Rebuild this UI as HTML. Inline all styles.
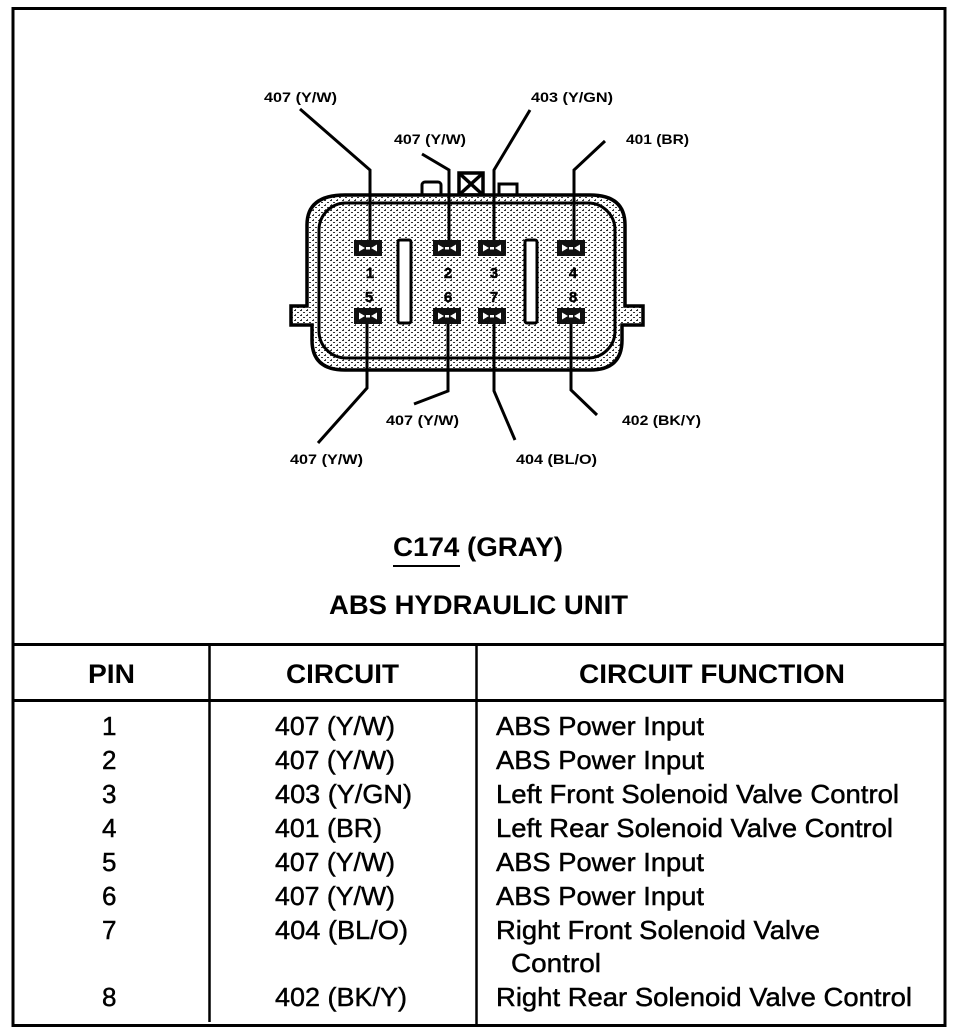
<!DOCTYPE html>
<html><head><meta charset="utf-8"><style>
html,body{margin:0;padding:0;background:#fff}
svg{display:block}
text{font-family:"Liberation Sans",sans-serif;fill:#000}
.l{font-size:14px;font-weight:bold}
.h{font-size:27px;font-weight:bold}
.t{font-size:26px;stroke:#000;stroke-width:.45}
.n{font-size:15px;font-weight:bold;stroke:#000;stroke-width:.4}
</style></head><body>
<svg width="960" height="1036" viewBox="0 0 960 1036" xmlns="http://www.w3.org/2000/svg">
<defs>
<pattern id="st" width="6" height="5" patternUnits="userSpaceOnUse">
<rect width="6" height="5" fill="#fff"/>
<rect x="0" y="0" width="2" height="1" fill="#333"/>
<rect x="3" y="2" width="2" height="1" fill="#333"/>
<rect x="1" y="4" width="1" height="1" fill="#555"/>
</pattern>
<g id="pin">
<rect x="0" y="0" width="28" height="16" fill="#111"/>
<path d="M5 4.5L11 8L5 11.5ZM23 4.5L17 8L23 11.5Z" fill="#fff"/>
<rect x="12" y="7" width="4" height="2.5" fill="#fff"/>
</g>
</defs>
<rect width="960" height="1036" fill="#fff"/>
<g fill="none" stroke="#000">
<rect x="13" y="8.5" width="932" height="1017" stroke-width="3"/>
<path d="M13 644.5H945M13 700.5H945" stroke-width="3"/>
<path d="M209.5 644V1022M476.5 644V1025" stroke-width="2.5"/>
</g>

<!-- connector -->
<g stroke="#000" fill="none">
<rect x="422" y="182" width="19" height="14" rx="3" fill="#fff" stroke-width="3"/>
<rect x="499" y="184" width="18" height="12" fill="#fff" stroke-width="3"/>
<rect x="459" y="173" width="24" height="22" fill="#fff" stroke-width="3.5"/>
<path d="M459 173L483 195M483 173L459 195" stroke-width="3.5"/>
<path d="M307 306H291V325H312V340Q312 370 345 370H590Q622 370 622 340V325H643V306H625V225Q625 195 590 195H345Q307 195 307 225Z" fill="url(#st)" stroke-width="3.5"/>
<rect x="319" y="203" width="296" height="155" rx="27" stroke-width="3"/>
<rect x="398" y="240" width="13" height="83" rx="2" fill="#fff" stroke-width="3"/>
<rect x="525" y="240" width="12" height="83" rx="2" fill="#fff" stroke-width="3"/>
</g>
<use href="#pin" x="354" y="240"/><use href="#pin" x="433" y="240"/><use href="#pin" x="478" y="240"/><use href="#pin" x="557" y="240"/>
<use href="#pin" x="354" y="308"/><use href="#pin" x="433" y="308"/><use href="#pin" x="478" y="308"/><use href="#pin" x="557" y="308"/>
<g fill="none" stroke="#000" stroke-width="3">
<path d="M300 109L370 170V240"/>
<path d="M422 154L449 170V240"/>
<path d="M530 110L494 170V240"/>
<path d="M605 141L574 170V240"/>
<path d="M367 324V388L318 443"/>
<path d="M448 324V391L414 404"/>
<path d="M494 324V391L515 440"/>
<path d="M571 324V390L597 415"/>
</g>
<g text-anchor="middle">
<text class="n" x="370" y="278">1</text><text class="n" x="448" y="278">2</text><text class="n" x="494" y="278">3</text><text class="n" x="573" y="278">4</text>
<text class="n" x="369" y="302">5</text><text class="n" x="448" y="302">6</text><text class="n" x="494" y="302">7</text><text class="n" x="573" y="302">8</text>
</g>
<text class="l" x="264" y="102" textLength="73" lengthAdjust="spacingAndGlyphs">407 (Y/W)</text>
<text class="l" x="394" y="144" textLength="72" lengthAdjust="spacingAndGlyphs">407 (Y/W)</text>
<text class="l" x="531" y="102" textLength="82" lengthAdjust="spacingAndGlyphs">403 (Y/GN)</text>
<text class="l" x="626" y="144" textLength="63" lengthAdjust="spacingAndGlyphs">401 (BR)</text>
<text class="l" x="386" y="425" textLength="73" lengthAdjust="spacingAndGlyphs">407 (Y/W)</text>
<text class="l" x="622" y="425" textLength="79" lengthAdjust="spacingAndGlyphs">402 (BK/Y)</text>
<text class="l" x="290" y="464" textLength="73" lengthAdjust="spacingAndGlyphs">407 (Y/W)</text>
<text class="l" x="516" y="464" textLength="81" lengthAdjust="spacingAndGlyphs">404 (BL/O)</text>

<text class="h" x="393" y="556" textLength="170" lengthAdjust="spacingAndGlyphs">C174 (GRAY)</text>
<rect x="393" y="565" width="67" height="2" fill="#000"/>
<text class="h" x="329" y="614" textLength="299" lengthAdjust="spacingAndGlyphs">ABS HYDRAULIC UNIT</text>
<text class="h" x="88" y="683" textLength="47" lengthAdjust="spacingAndGlyphs">PIN</text>
<text class="h" x="286" y="683" textLength="113" lengthAdjust="spacingAndGlyphs">CIRCUIT</text>
<text class="h" x="579" y="683" textLength="266" lengthAdjust="spacingAndGlyphs">CIRCUIT FUNCTION</text>

<text class="t" x="102" y="735">1</text>
<text class="t" x="102" y="769">2</text>
<text class="t" x="102" y="803">3</text>
<text class="t" x="102" y="837">4</text>
<text class="t" x="102" y="871">5</text>
<text class="t" x="102" y="905">6</text>
<text class="t" x="102" y="939">7</text>
<text class="t" x="102" y="1006">8</text>
<text class="t" x="275" y="735" textLength="120" lengthAdjust="spacingAndGlyphs">407 (Y/W)</text>
<text class="t" x="275" y="769" textLength="120" lengthAdjust="spacingAndGlyphs">407 (Y/W)</text>
<text class="t" x="275" y="803" textLength="137" lengthAdjust="spacingAndGlyphs">403 (Y/GN)</text>
<text class="t" x="275" y="837" textLength="107" lengthAdjust="spacingAndGlyphs">401 (BR)</text>
<text class="t" x="275" y="871" textLength="120" lengthAdjust="spacingAndGlyphs">407 (Y/W)</text>
<text class="t" x="275" y="905" textLength="120" lengthAdjust="spacingAndGlyphs">407 (Y/W)</text>
<text class="t" x="275" y="939" textLength="133" lengthAdjust="spacingAndGlyphs">404 (BL/O)</text>
<text class="t" x="275" y="1006" textLength="132" lengthAdjust="spacingAndGlyphs">402 (BK/Y)</text>
<text class="t" x="496" y="735" textLength="208" lengthAdjust="spacingAndGlyphs">ABS Power Input</text>
<text class="t" x="496" y="769" textLength="208" lengthAdjust="spacingAndGlyphs">ABS Power Input</text>
<text class="t" x="496" y="803" textLength="403" lengthAdjust="spacingAndGlyphs">Left Front Solenoid Valve Control</text>
<text class="t" x="496" y="837" textLength="397" lengthAdjust="spacingAndGlyphs">Left Rear Solenoid Valve Control</text>
<text class="t" x="496" y="871" textLength="208" lengthAdjust="spacingAndGlyphs">ABS Power Input</text>
<text class="t" x="496" y="905" textLength="208" lengthAdjust="spacingAndGlyphs">ABS Power Input</text>
<text class="t" x="496" y="939" textLength="324" lengthAdjust="spacingAndGlyphs">Right Front Solenoid Valve</text>
<text class="t" x="511" y="972" textLength="90" lengthAdjust="spacingAndGlyphs">Control</text>
<text class="t" x="496" y="1006" textLength="416" lengthAdjust="spacingAndGlyphs">Right Rear Solenoid Valve Control</text>
</svg>
</body></html>
